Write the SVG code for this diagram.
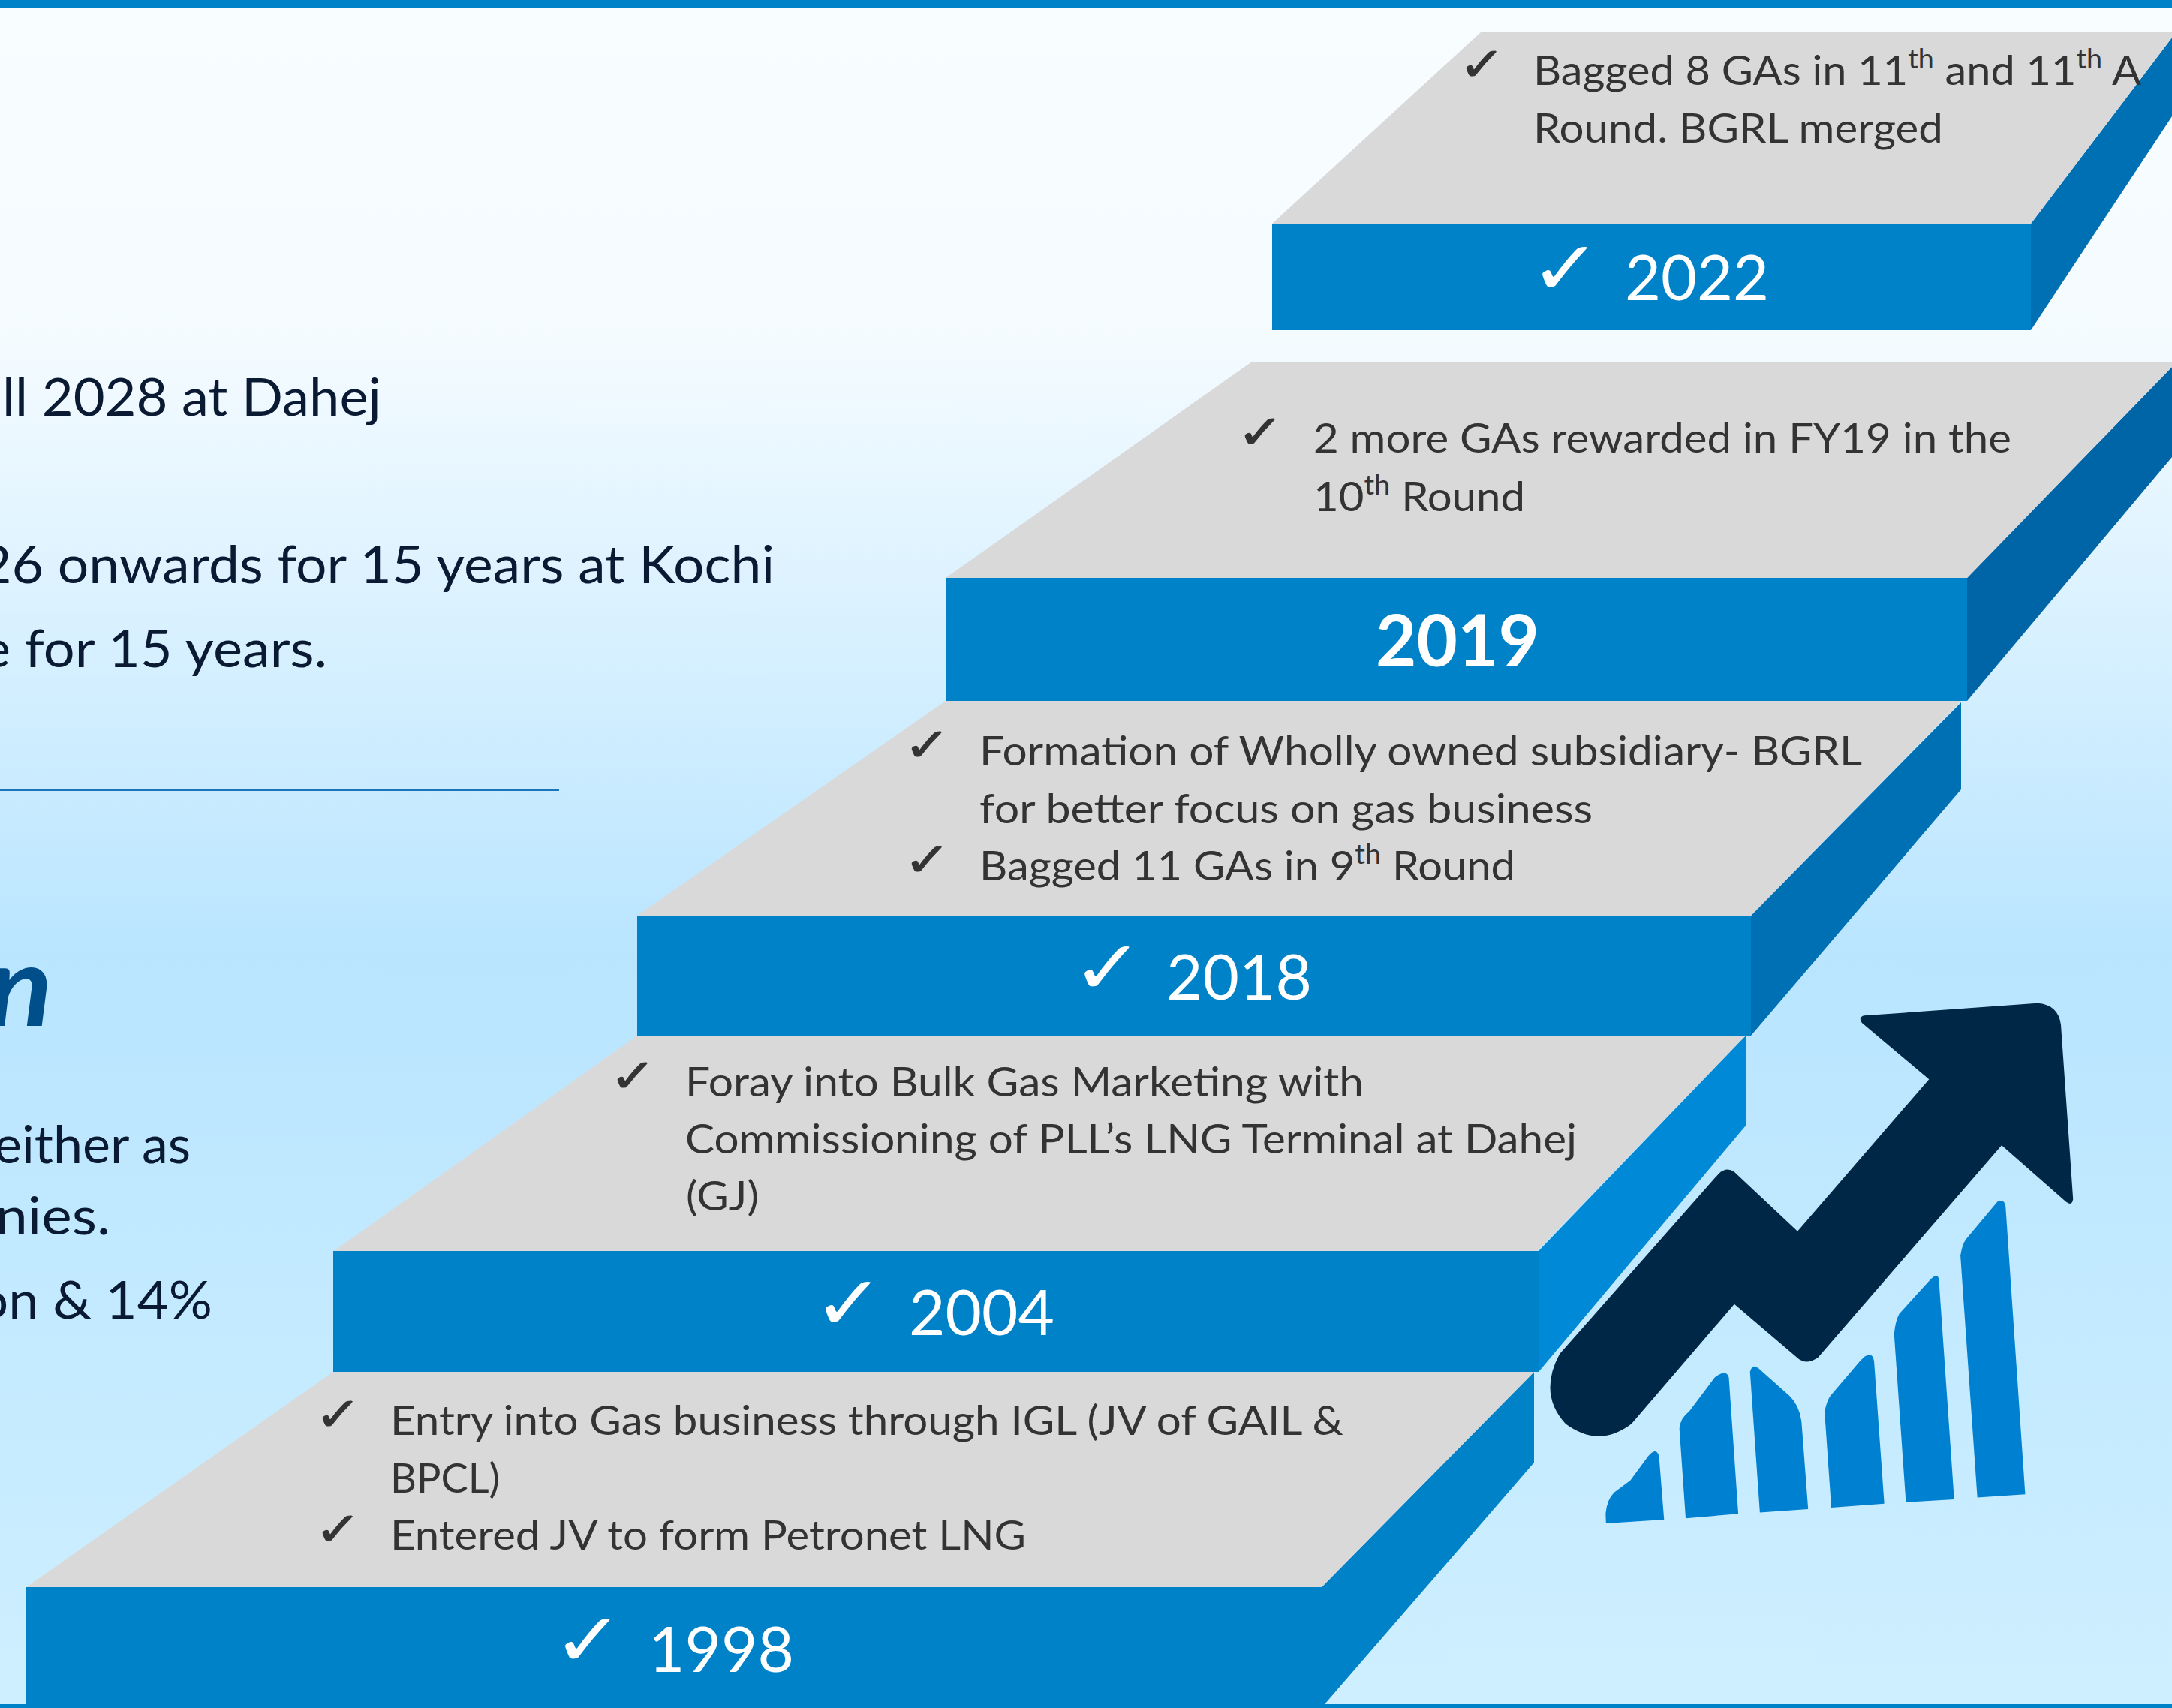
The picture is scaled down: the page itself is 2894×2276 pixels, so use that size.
<svg xmlns="http://www.w3.org/2000/svg" width="2894" height="2276" viewBox="0 0 2894 2276">
<style>
text{font-family:Lato,"Liberation Sans",sans-serif}
.b{font-size:55px;fill:#333}
.l{font-size:70px;fill:#0b1a33}
.y{font-size:84px;fill:#fff}
.c{font-family:"DejaVu Sans",sans-serif;font-size:62px;fill:#333;stroke:#333;stroke-width:1px}
.w{font-family:"DejaVu Sans",sans-serif;font-size:100px;fill:#fff}
.s{fill:#d9d9d9}
.f{fill:#0082c8}
.bar{fill:#0080d0}
</style>
<defs><linearGradient id="bg" x1="0" y1="0" x2="0" y2="1"><stop offset="0" stop-color="#f8fdff"/><stop offset="0.2" stop-color="#f4fbff"/><stop offset="0.56" stop-color="#b9e5ff"/><stop offset="1" stop-color="#ceefff"/></linearGradient></defs>
<rect width="2894" height="2276" fill="url(#bg)"/>
<rect width="2894" height="10" fill="#0082c8"/>
<rect y="2271" width="2894" height="5" fill="#0082c8"/>
<g id="left-text">
<text class="l" x="3" y="554" textLength="505" lengthAdjust="spacingAndGlyphs">ll 2028 at Dahej</text>
<text class="l" x="-27" y="777" textLength="1059" lengthAdjust="spacingAndGlyphs">26 onwards for 15 years at Kochi</text>
<text class="l" x="-25" y="889" textLength="461" lengthAdjust="spacingAndGlyphs">e for 15 years.</text>
<line x1="0" y1="1053" x2="745" y2="1053" stroke="#1c75b8" stroke-width="2"/>
<text x="-17" y="1367" font-size="150" font-weight="700" font-style="italic" fill="#004e8a" textLength="87" lengthAdjust="spacingAndGlyphs">n</text>
<text class="l" x="-8" y="1550" textLength="262" lengthAdjust="spacingAndGlyphs">either as</text>
<text class="l" x="-6" y="1645" textLength="153" lengthAdjust="spacingAndGlyphs">nies.</text>
<text class="l" x="-30" y="1757" textLength="313" lengthAdjust="spacingAndGlyphs">on &amp; 14%</text>
</g>
<g id="step-2022">
<polygon points="2706,298 2894,50 2894,155 2706,440" fill="#0070b5"/>
<polygon class="s" points="1974,42 2894,42 2894,50 2706,298 1695,298"/>
<rect class="f" x="1695" y="298" width="1011" height="142"/>
<text class="c" x="1943" y="107" textLength="63" lengthAdjust="spacingAndGlyphs">✓</text>
<text class="b" x="2043" y="113" textLength="810" lengthAdjust="spacingAndGlyphs">Bagged 8 GAs in 11<tspan font-size="36" dy="-22">th</tspan><tspan dy="22"> and 11</tspan><tspan font-size="36" dy="-22">th</tspan><tspan dy="22"> A</tspan></text>
<text class="b" x="2043" y="190" textLength="546" lengthAdjust="spacingAndGlyphs">Round. BGRL merged</text>
<text class="w" x="2038" y="392" textLength="96" lengthAdjust="spacingAndGlyphs">✓</text>
<text class="y" x="2165" y="400" textLength="192" lengthAdjust="spacingAndGlyphs">2022</text>
</g>
<g id="step-2019">
<polygon points="2621,770 2894,489 2894,609 2621,934" fill="#0065a6"/>
<polygon class="s" points="1668,482 2894,482 2894,489 2621,770 1260,770"/>
<rect class="f" x="1260" y="770" width="1361" height="164"/>
<text class="c" x="1648" y="597" textLength="63" lengthAdjust="spacingAndGlyphs">✓</text>
<text class="b" x="1750" y="603" textLength="930" lengthAdjust="spacingAndGlyphs">2 more GAs rewarded in FY19 in the</text>
<text class="b" x="1750" y="681" textLength="282" lengthAdjust="spacingAndGlyphs">10<tspan font-size="36" dy="-22">th</tspan><tspan dy="22"> Round</tspan></text>
<text x="1833" y="888" font-size="96" font-weight="700" fill="#fff" textLength="218" lengthAdjust="spacingAndGlyphs">2019</text>
</g>
<g id="step-2018">
<polygon points="2333,1220 2613,936 2613,1052 2333,1380" fill="#0070b5"/>
<polygon class="s" points="1260,934 2613,934 2333,1220 849,1220"/>
<rect class="f" x="849" y="1220" width="1484" height="160"/>
<text class="c" x="1204" y="1014" textLength="63" lengthAdjust="spacingAndGlyphs">✓</text>
<text class="b" x="1305" y="1020" textLength="1176" lengthAdjust="spacingAndGlyphs">Formation of Wholly owned subsidiary- BGRL</text>
<text class="b" x="1305" y="1097" textLength="817" lengthAdjust="spacingAndGlyphs">for better focus on gas business</text>
<text class="c" x="1204" y="1167" textLength="63" lengthAdjust="spacingAndGlyphs">✓</text>
<text class="b" x="1305" y="1173" textLength="714" lengthAdjust="spacingAndGlyphs">Bagged 11 GAs in 9<tspan font-size="36" dy="-22">th</tspan><tspan dy="22"> Round</tspan></text>
<text class="w" x="1428" y="1324" textLength="96" lengthAdjust="spacingAndGlyphs">✓</text>
<text class="y" x="1554" y="1332" textLength="194" lengthAdjust="spacingAndGlyphs">2018</text>
</g>
<g id="step-2004">
<polygon points="2050,1667 2326,1380 2326,1500 2050,1828" fill="#0089d6"/>
<polygon class="s" points="849,1380 2326,1380 2048,1667 445,1667"/>
<rect class="f" x="444" y="1667" width="1606" height="161"/>
<text class="c" x="812" y="1455" textLength="63" lengthAdjust="spacingAndGlyphs">✓</text>
<text class="b" x="913" y="1461" textLength="904" lengthAdjust="spacingAndGlyphs">Foray into Bulk Gas Marketing with</text>
<text class="b" x="913" y="1537" textLength="1188" lengthAdjust="spacingAndGlyphs">Commissioning of PLL’s LNG Terminal at Dahej</text>
<text class="b" x="914" y="1613" textLength="97" lengthAdjust="spacingAndGlyphs">(GJ)</text>
<text class="w" x="1083" y="1771" textLength="96" lengthAdjust="spacingAndGlyphs">✓</text>
<text class="y" x="1211" y="1779" textLength="194" lengthAdjust="spacingAndGlyphs">2004</text>
</g>
<g id="step-1998">
<polygon points="1761,2115 2044,1828 2044,1949 1765,2271 1761,2271" fill="#0082c8"/>
<polygon class="s" points="444,1828 2044,1828 1761,2115 35,2115"/>
<rect class="f" x="35" y="2115" width="1728" height="161"/>
<text class="c" x="419" y="1906" textLength="63" lengthAdjust="spacingAndGlyphs">✓</text>
<text class="b" x="520" y="1912" textLength="1270" lengthAdjust="spacingAndGlyphs">Entry into Gas business through IGL (JV of GAIL &amp;</text>
<text class="b" x="520" y="1989" textLength="146" lengthAdjust="spacingAndGlyphs">BPCL)</text>
<text class="c" x="419" y="2059" textLength="63" lengthAdjust="spacingAndGlyphs">✓</text>
<text class="b" x="520" y="2065" textLength="847" lengthAdjust="spacingAndGlyphs">Entered JV to form Petronet LNG</text>
<text class="w" x="736" y="2220" textLength="96" lengthAdjust="spacingAndGlyphs">✓</text>
<text class="y" x="864" y="2228" textLength="194" lengthAdjust="spacingAndGlyphs">1998</text>
</g>
<g id="growth-icon" transform="translate(1950,1300) scale(0.523,0.4847)">
<path fill="#002746" d="M1020,110 L1462,76 Q1515,80 1522,135 L1553,615 Q1550,635 1535,622 L1371,467 L903,1050 Q875,1070 855,1055 L690,903 L428,1232 Q345,1300 260,1232 Q190,1150 245,1040 L650,545 Q670,525 690,540 L851,703 L1186,285 L1015,130 Q1005,115 1020,110 Z"/>
<path class="bar" d="M363,1506 L362,1480 Q365,1440 385,1420 L425,1388 L470,1322 Q490,1295 498,1320 L511,1496 Z"/>
<path class="bar" d="M566,1492 L550,1245 Q553,1215 575,1198 L640,1105 Q670,1080 676,1105 L700,1480 Z"/>
<path class="bar" d="M755,1476 L730,1090 Q735,1065 752,1080 L830,1155 Q855,1180 861,1225 L878,1467 Z"/>
<path class="bar" d="M937,1463 L920,1200 Q925,1170 935,1155 L1010,1060 Q1040,1025 1046,1060 L1072,1452 Z"/>
<path class="bar" d="M1127,1448 L1097,985 Q1100,950 1110,930 L1190,835 Q1208,815 1211,835 L1250,1440 Z"/>
<path class="bar" d="M1309,1435 L1266,770 Q1270,740 1280,725 L1360,622 Q1378,612 1381,635 L1431,1426 Z"/>
</g>
</svg>
